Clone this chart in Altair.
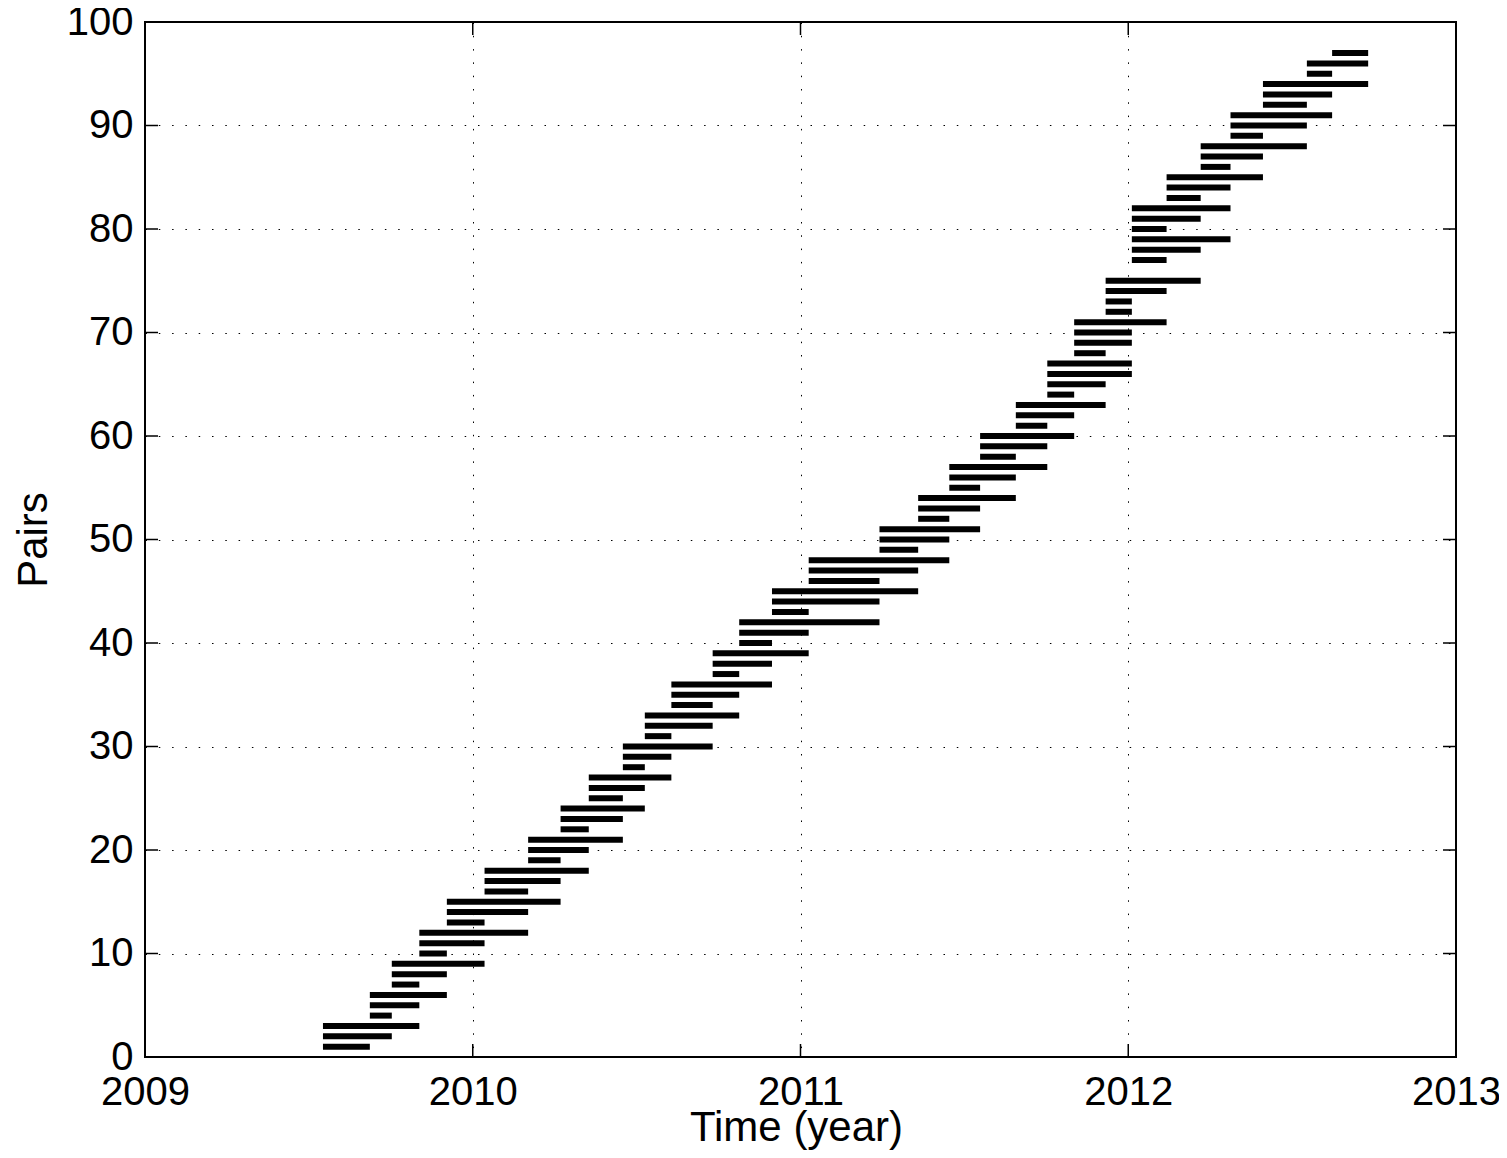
import altair as alt
import pandas as pd

# ---------------- data ----------------
pair_id = list(range(1, 98))

pair_start = (
    [2009.543] * 3 + [2009.686] * 3 + [2009.753] * 3 + [2009.837] * 3 +
    [2009.921] * 3 + [2010.036] * 3 + [2010.169] * 3 + [2010.268] * 3 +
    [2010.354] * 3 + [2010.458] * 3 + [2010.525] * 3 + [2010.606] * 3 +
    [2010.732] * 3 + [2010.813] * 3 + [2010.913] * 3 + [2011.025] * 3 +
    [2011.241] * 3 + [2011.359] * 3 + [2011.454] * 3 + [2011.548] * 3 +
    [2011.657] * 3 +
    [2011.753] * 4 + [2011.835] * 4 + [2011.931] * 4 +
    [2012.011] + [2012.011] * 6 +
    [2012.117] * 3 + [2012.221] * 3 + [2012.312] * 3 + [2012.411] * 3 +
    [2012.545] * 2 + [2012.622]
)

pair_end = [
    2009.686, 2009.753, 2009.837,
    2009.753, 2009.837, 2009.921,
    2009.837, 2009.921, 2010.036,
    2009.921, 2010.036, 2010.169,
    2010.036, 2010.169, 2010.268,
    2010.169, 2010.268, 2010.354,
    2010.268, 2010.354, 2010.458,
    2010.354, 2010.458, 2010.525,
    2010.458, 2010.525, 2010.606,
    2010.525, 2010.606, 2010.732,
    2010.606, 2010.732, 2010.813,
    2010.732, 2010.813, 2010.913,
    2010.813, 2010.913, 2011.025,
    2010.913, 2011.025, 2011.241,
    2011.025, 2011.241, 2011.359,
    2011.241, 2011.359, 2011.454,
    2011.359, 2011.454, 2011.548,
    2011.454, 2011.548, 2011.657,
    2011.548, 2011.657, 2011.753,
    2011.657, 2011.753, 2011.835,
    2011.753, 2011.835, 2011.931,
    2011.835, 2011.931, 2012.011, 2012.011,
    2011.931, 2012.011, 2012.011, 2012.117,
    2012.011, 2012.011, 2012.117, 2012.221,
    2012.011,
    2012.117, 2012.221, 2012.312, 2012.117, 2012.221, 2012.312,
    2012.221, 2012.312, 2012.411,
    2012.312, 2012.411, 2012.545,
    2012.411, 2012.545, 2012.622,
    2012.545, 2012.622, 2012.732,
    2012.622, 2012.732,
    2012.732,
]

x_ticks = [2009, 2010, 2011, 2012, 2013]
y_ticks = [0, 10, 20, 30, 40, 50, 60, 70, 80, 90, 100]

# ---------------- chart ----------------
W, H = 1311, 1035
TICK = 13
FONT = "Liberation Sans"

df = pd.DataFrame({"pair": pair_id, "start": pair_start, "end": pair_end})
xt = pd.DataFrame({"start": x_ticks})
yt = pd.DataFrame({"pair": y_ticks})

x_scale = alt.Scale(domain=[2009, 2013], nice=False, zero=False)
y_scale = alt.Scale(domain=[0, 100], nice=False, zero=False)

x_axis = alt.Axis(values=x_ticks, format="d", title="Time (year)",
                  labelPadding=15, labelFlush=False, labelOverlap=False,
                  titleX=651, titleY=83, titleAlign="center",
                  titleBaseline="alphabetic")
y_axis = alt.Axis(values=y_ticks, format="d", title="Pairs",
                  labelPadding=12, labelFlush=False, labelOverlap=False,
                  titleX=-99, titleY=H / 2, titleAngle=270,
                  titleAlign="center", titleBaseline="alphabetic")

X = alt.X("start:Q", scale=x_scale, axis=x_axis)
Y = alt.Y("pair:Q", scale=y_scale, axis=y_axis)

bars = alt.Chart(df).mark_rule(strokeWidth=6, strokeCap="butt", color="black").encode(
    x=X, x2="end:Q", y=Y,
)

tick_style = dict(color="black", strokeWidth=1.5)
x_bottom = alt.Chart(xt).mark_rule(**tick_style).encode(
    x=X, y=alt.value(H), y2=alt.value(H - TICK))
x_top = alt.Chart(xt).mark_rule(**tick_style).encode(
    x=X, y=alt.value(0), y2=alt.value(TICK))
y_left = alt.Chart(yt).mark_rule(**tick_style).encode(
    y=Y, x=alt.value(0), x2=alt.value(TICK))
y_right = alt.Chart(yt).mark_rule(**tick_style).encode(
    y=Y, x=alt.value(W), x2=alt.value(W - TICK))

chart = alt.layer(bars, x_bottom, x_top, y_left, y_right).properties(
    width=W, height=H,
    autosize=alt.AutoSizeParams(type="none"),
    padding={"left": 137, "top": 14, "right": 43, "bottom": 93},
    background="white",
).configure_view(
    stroke="black", strokeWidth=2,
).configure_axis(
    labelFont=FONT, labelFontSize=40, labelColor="black",
    titleFont=FONT, titleFontSize=42, titleFontWeight="normal", titleColor="black",
    domain=False, ticks=False,
    grid=True, gridColor="black", gridDash=[1.5, 11.8], gridWidth=1, gridOpacity=1,
)

chart.save("out.html", embed_options={"renderer": "svg", "actions": False})
